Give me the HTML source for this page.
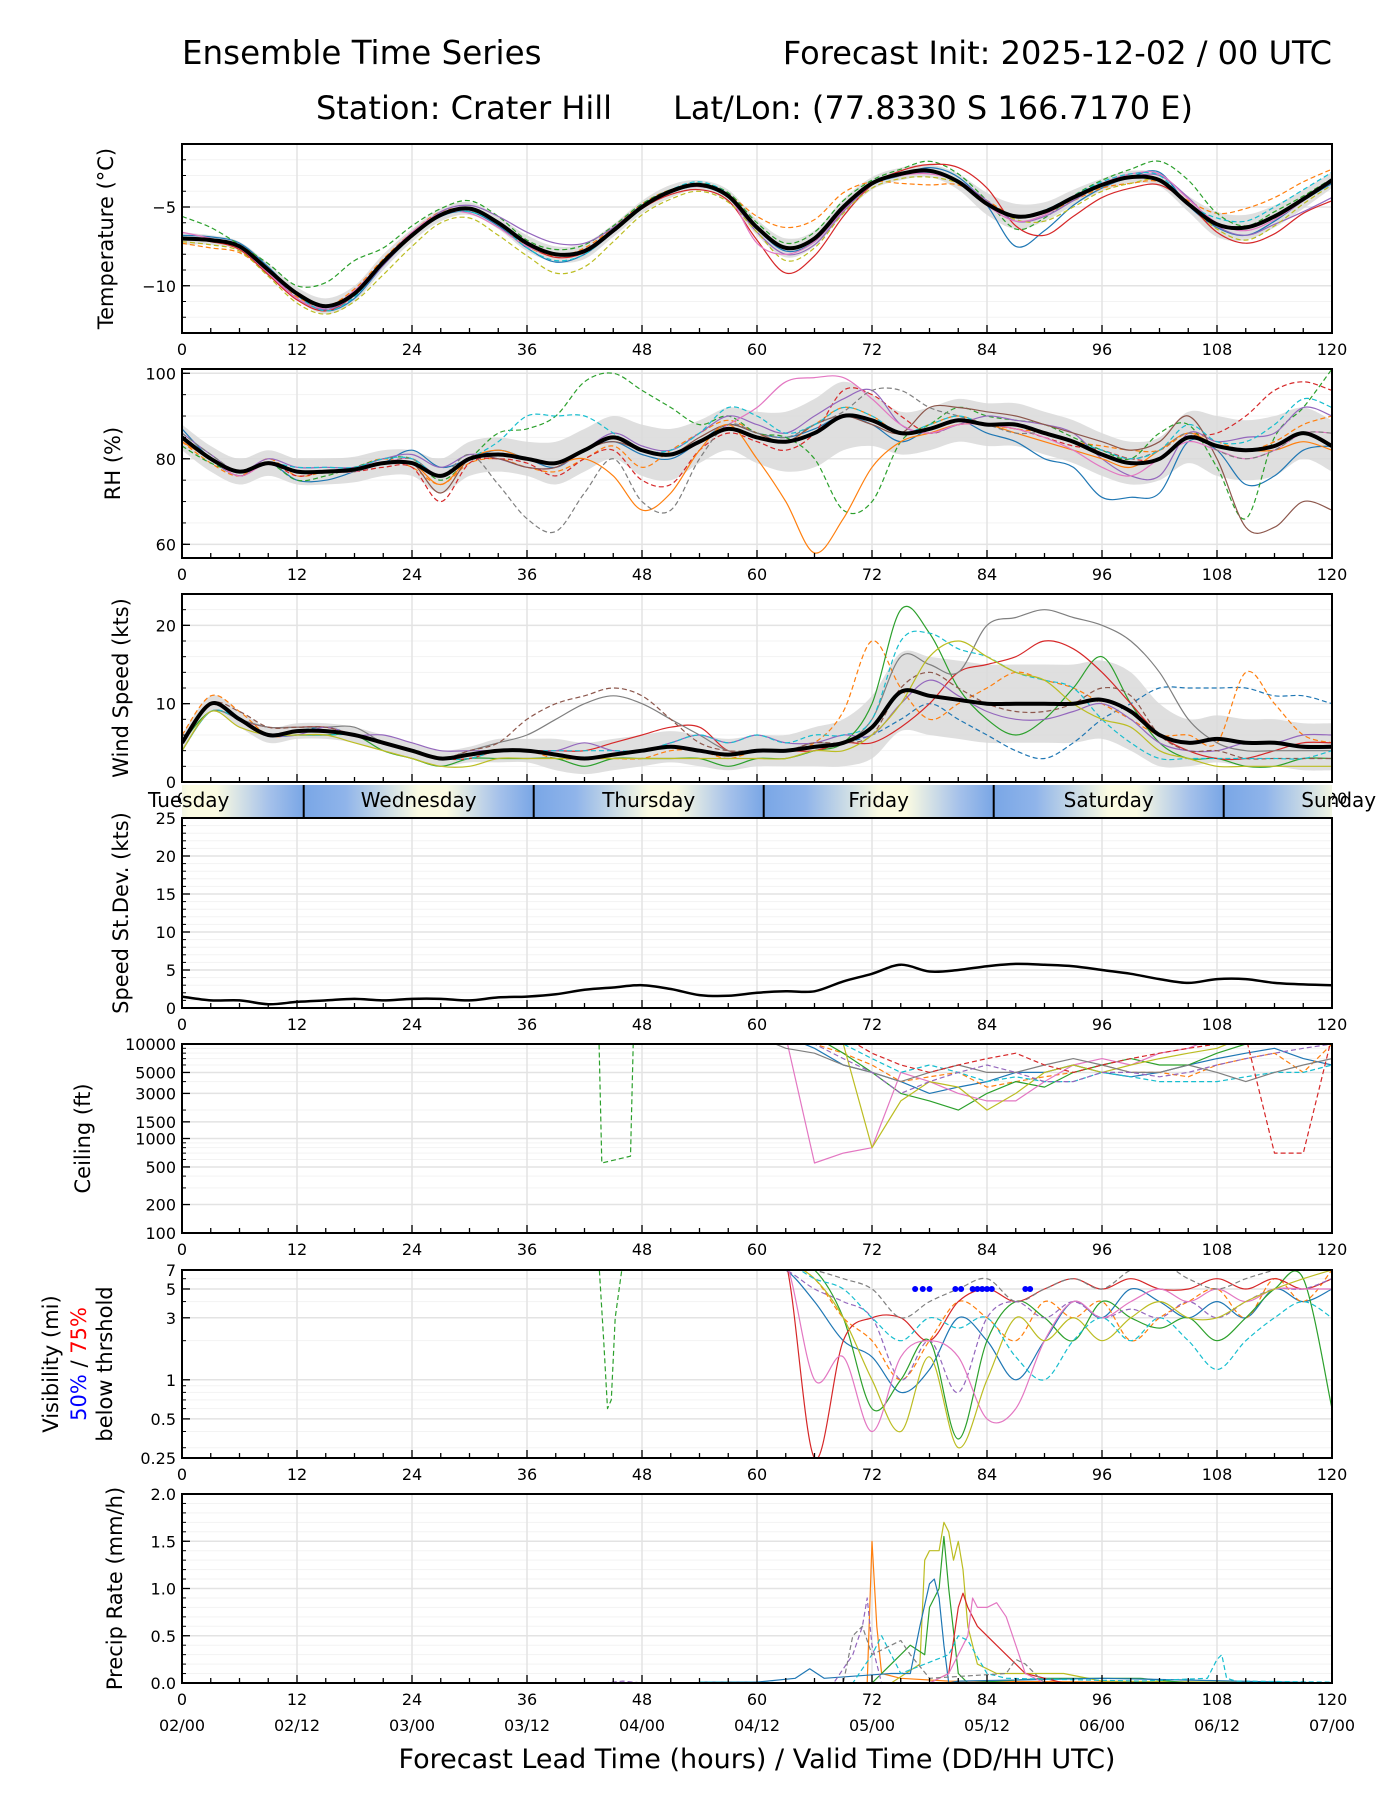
<!DOCTYPE html>
<html><head><meta charset="utf-8"><style>
html,body{margin:0;padding:0;background:#fff;}
svg{display:block;font-family:"DejaVu Sans","Liberation Sans",sans-serif;}
</style></head><body>
<svg id="chart" width="1400" height="1800" viewBox="0 0 1400 1800" xmlns="http://www.w3.org/2000/svg">
<text x="182" y="64" font-size="32.5">Ensemble Time Series</text>
<text x="1332" y="64" font-size="32" text-anchor="end">Forecast Init: 2025-12-02 / 00 UTC</text>
<text x="464" y="119" font-size="32" text-anchor="middle">Station: Crater Hill</text>
<text x="933" y="119" font-size="32" text-anchor="middle">Lat/Lon: (77.8330 S 166.7170 E)</text>
<g id="layer"></g>
</svg>
<script>
// ---------- data ----------
const hours3 = [0,3,6,9,12,15,18,21,24,27,30,33,36,39,42,45,48,51,54,57,60,63,66,69,72,75,78,81,84,87,90,93,96,99,102,105,108,111,114,117,120];
const xTicks = [0,12,24,36,48,60,72,84,96,108,120];
const dateLabels = ["02/00","02/12","03/00","03/12","04/00","04/12","05/00","05/12","06/00","06/12","07/00"];
const dayNames = ["Tuesday","Wednesday","Thursday","Friday","Saturday","Sunday"];
const dayBoundaries = [12.7,36.7,60.7,84.7,108.7];
const colors = ["#1f77b4","#ff7f0e","#2ca02c","#d62728","#9467bd","#8c564b","#e377c2","#7f7f7f","#bcbd22","#17becf"];

const tempMean = [-7,-7.1,-7.5,-9,-10.5,-11.3,-10.5,-8.5,-6.8,-5.5,-5.1,-6,-7.3,-8,-7.8,-6.5,-5,-4,-3.6,-4.3,-6.3,-7.6,-7,-5,-3.5,-2.9,-2.7,-3.4,-4.8,-5.6,-5.3,-4.4,-3.6,-3.1,-3.3,-4.8,-6.1,-6.3,-5.6,-4.5,-3.3];
const tempBand = [0.4,0.3,0.3,0.4,0.4,0.5,0.5,0.5,0.4,0.4,0.4,0.4,0.5,0.5,0.5,0.4,0.4,0.4,0.3,0.4,0.5,0.6,0.5,0.5,0.4,0.4,0.4,0.5,0.7,0.8,0.6,0.5,0.4,0.4,0.4,0.5,0.8,0.8,0.7,0.6,0.5];
const tempM1 = [-6.8,-6.9,-7.3,-8.8,-10.6,-11.6,-10.8,-8.7,-6.9,-5.6,-5.3,-6.2,-7.6,-8.5,-8,-6.6,-5.1,-4.1,-3.7,-4.4,-6.4,-7.8,-7.2,-5.2,-3.6,-3,-2.5,-3.1,-4.9,-7.5,-6.5,-4.9,-3.8,-3.1,-2.8,-4.9,-6.3,-6.8,-5.9,-4.6,-3.5];
const tempM2 = [-7.3,-7.6,-7.9,-9.2,-10.7,-11.3,-10.2,-8.3,-6.6,-5.3,-5.2,-6.1,-7.5,-8.1,-7.6,-6.3,-4.8,-3.9,-3.7,-4.2,-5.6,-6.3,-5.8,-4.1,-3.4,-3.5,-3.6,-3.6,-4.6,-5.6,-5.4,-4.6,-3.8,-3.5,-3.4,-4.6,-5.4,-5.1,-4.4,-3.4,-2.6];
const tempM3 = [-5.6,-6.3,-7.4,-8.6,-10,-9.8,-8.4,-7.6,-6.2,-5.1,-4.6,-5.6,-7.1,-7.7,-7.4,-6.2,-4.8,-3.9,-3.5,-4.1,-6,-7.3,-6.6,-4.6,-3.3,-2.6,-2.1,-2.9,-4.6,-6.4,-5.7,-4.3,-3.3,-2.6,-2.1,-3.3,-5.4,-6.2,-5.3,-4.3,-3.2];
const tempM4 = [-7,-7.2,-7.7,-9.3,-10.9,-11.6,-10.6,-8.6,-6.9,-5.5,-5.1,-6,-7.4,-8.2,-7.9,-6.6,-5.1,-4.2,-3.9,-4.6,-7.1,-9.2,-8.1,-5.6,-3.6,-2.7,-2.3,-2.5,-3.8,-6.2,-6.8,-5.6,-4.4,-3.8,-3.6,-4.8,-6.6,-7.3,-6.7,-5.4,-4.6];
const tempM5 = [-7,-7.1,-7.6,-9.1,-10.8,-11.5,-10.6,-8.7,-6.8,-5.3,-4.9,-5.6,-6.6,-7.3,-7.3,-6.3,-4.9,-4,-3.6,-4.4,-6.6,-8,-7.4,-5.3,-3.6,-3,-2.8,-3.3,-4.6,-5.9,-5.6,-4.6,-3.6,-3.1,-3,-4.4,-6.2,-6.8,-6.1,-5.3,-4.4];
const tempM6 = [-7.2,-7.4,-7.8,-9.4,-11.1,-11.8,-11,-9.3,-7.5,-6,-5.7,-6.8,-8.1,-9.2,-8.8,-7.2,-5.5,-4.5,-4,-4.7,-6.6,-8.4,-7.6,-5.4,-3.8,-3.2,-3.1,-3.5,-4.7,-5.8,-5.9,-5,-4,-3.5,-3.3,-4.8,-6.4,-7.1,-6.2,-4.8,-3.6];
const tempM7 = [-6.6,-7,-7.6,-9.2,-10.8,-11.4,-10.3,-8.4,-6.6,-5.4,-5.4,-6.3,-7.5,-8,-7.7,-6.4,-4.9,-4,-3.7,-4.3,-7.3,-8,-7.2,-5.2,-3.5,-3,-2.9,-3.4,-4.9,-5.9,-5.5,-4.4,-3.5,-2.9,-2.9,-4.5,-6,-6.5,-5.8,-4.6,-3.3];
const tempM8 = [-6.9,-7.1,-7.5,-9,-10.6,-11.6,-10.7,-8.5,-6.8,-5.5,-5.3,-6.1,-7.6,-8.4,-8,-6.5,-4.9,-3.9,-3.4,-4.2,-6.3,-7.6,-7,-5,-3.4,-2.9,-2.8,-3.3,-4.8,-5.6,-5.2,-4.3,-3.4,-2.9,-3,-4.8,-5.7,-5.9,-5,-3.9,-2.8];

const rhMean = [85,80,77,79,77,77,77.5,79,79,76,80,81,80,79,82,85,82,81,84,87,85,84,86,90,89,86,87,89,88,88,86,84,81,79,80,85,83,82,83,86,83];
const rhBand = [3,3,3,3,3,3,3,3,3,4,4,4,4,5,5,5,6,6,5,5,6,7,8,8,6,5,5,5,5,5,5,5,5,5,5,6,7,7,7,6,6];
const rhM1 = [87,80,76,79,75,75,77,79,82,78,80,82,80,78,82,84,81,80,84,88,86,85,87,90,88,84,87,89,86,84,80,78,71,71,72,84,82,74,76,82,83];
const rhM2 = [84,79,76,80,76,77,78,80,78,74,79,80,78,77,80,83,78,82,86,89,86,84,88,92,90,86,88,90,88,87,86,84,83,82,82,86,84,82,84,88,90];
const rhM3 = [83,79,77,79,75,76,78,80,80,75,80,86,87,90,98,100,96,92,88,90,86,85,80,68,70,84,88,92,90,89,88,85,82,80,86,88,78,66,85,92,101];
const rhM4 = [85,80,76,79,76,77,77,78,78,70,79,80,79,76,80,82,75,74,82,86,84,82,86,96,95,90,86,88,88,87,85,83,82,80,80,85,86,90,96,98,96];
const rhM5 = [86,81,77,80,78,78,78,80,81,78,81,80,78,78,82,86,83,82,86,90,88,86,90,94,96,88,86,88,90,89,88,86,80,76,76,86,84,85,86,92,90];
const rhM6 = [85,80,77,79,77,77,77,79,79,72,80,80,78,78,82,84,82,81,85,88,86,84,88,90,88,86,92,92,91,90,88,86,84,82,84,90,80,64,64,70,68];
const rhM7 = [84,80,77,79,77,77,77,79,79,74,80,82,80,79,80,76,68,72,82,88,80,70,58,66,78,84,86,88,88,86,84,82,80,78,82,86,83,82,82,84,82];
const rhM8 = [85,80,76,79,77,77,77,79,80,76,80,81,80,79,82,85,82,81,84,88,92,98,99,99,94,88,86,88,88,87,85,82,78,76,80,84,82,80,82,86,86];
const rhM9 = [86,81,77,79,77,77,77,79,80,76,81,74,66,63,72,80,70,68,80,88,86,85,88,91,96,96,92,90,88,86,86,84,82,80,82,86,82,80,82,86,86];
const rhM10 = [85,80,77,79,78,78,78,80,80,76,80,84,90,90,90,86,82,82,86,92,90,86,88,92,90,86,88,90,88,88,86,84,82,80,82,88,84,84,88,94,92];

const windMean = [5,10,8,6,6.5,6.5,6,5,4,3,3.5,4,4,3.5,3,3.5,4,4.5,4,3.5,4,4,4.5,5,7,11.5,11,10.5,10,10,10,10,10.5,9,6,5,5.5,5,5,4.5,4.5];
const windBand = [1,1,1,1,1,1,1,1,1,1,1,1.5,1.5,2,2,2,2,2,2,2,2,2,2.5,3,4,5,5,5,5,5,5,5,5,5,4,3,3,3,3,3,3];
const windM1 = [5,10,8,6,6.5,7,6,5,4,3,3.5,4,4,3.5,3,3.5,4,4.5,4,3.5,4,4,4.5,5,6,8,10,8,6,4,3,5,8,10,12,12,12,12,11,11,10];
const windM2 = [6,11,9,6,6,6,6,5,4,3,3,4,4,3,3,3,3,4,4,3,4,4,5,9,18,12,8,10,12,14,13,12,10,8,6,6,5,14,10,6,5];
const windM3 = [5,9,8,6,6,6,6,4,3,2,3,3,3,3,2,3,3,3,3,2,3,3,4,5,10,22,19,12,8,6,8,12,16,10,5,3,3,2,2,3,3];
const windM4 = [5,10,8,7,7,7,6,5,4,3,3,4,4,4,4,5,6,7,7,4,4,4,4,5,5,7,10,14,15,16,18,17,14,10,6,4,3,3,4,5,5];
const windM5 = [4,9,8,7,7,7,7,5,4,3,4,5,6,8,10,11,10,8,6,4,4,4,5,5,8,16,15,14,20,21,22,21,20,18,14,8,5,4,4,4,4];
const windM6 = [5,10,8,6,6,7,6,6,5,4,4,4,4,4,5,4,4,5,6,5,6,5,5,6,6,10,13,11,9,8,8,9,10,8,5,4,4,5,5,6,6];
const windM7 = [5,10,9,7,7,7,6,5,4,3,4,5,8,10,11,12,11,8,5,4,4,4,5,5,6,12,14,12,10,9,9,10,12,11,6,4,4,3,3,3,3];
const windM8 = [4,9,8,6,6,6,6,5,4,3,3,4,4,4,4,4,4,5,6,5,6,5,6,6,8,18,19,17,16,14,13,12,8,5,3,3,3,3,3,3,4];
const windM9 = [4,9,7,6,6,6,5,4,3,2,2,3,3,3,3,3,3,3,3,3,3,3,4,4,6,10,16,18,16,14,13,10,8,7,4,3,2,2,2,2,2];

const sdValues = [1.5,1,1,0.5,0.8,1,1.2,1,1.2,1.2,1,1.4,1.5,1.8,2.4,2.7,3,2.5,1.7,1.6,2,2.2,2.2,3.5,4.5,5.7,4.8,5,5.5,5.8,5.7,5.5,5,4.5,3.8,3.3,3.8,3.8,3.3,3.1,3];

const lateHours = [60,63,66,69,72,75,78,81,84,87,90,93,96,99,102,105,108,111,114,117,120];
const ceilC1 = [12000,12000,9000,6000,5000,4000,3000,3500,4000,5000,5000,6000,5000,4500,5000,6000,7000,8000,9000,7000,6000];
const ceilC2 = [12000,12000,10000,8000,6000,4000,4500,5000,3500,4000,4500,5000,6000,5000,5000,4500,6000,7000,8000,5000,10000];
const ceilC3 = [12000,12000,12000,8000,5000,3000,2500,2000,3000,4000,3500,5000,6000,7000,6000,6000,8000,10000,12000,12000,12000];
const ceilC4 = [12000,12000,550,700,800,5000,4000,3000,2500,2500,4000,6000,7000,6000,8000,9000,12000,12000,12000,12000,12000];
const ceilC5 = [12000,12000,12000,10000,800,2500,4000,3500,2000,3000,5000,6000,5000,6000,7000,8000,9000,12000,12000,12000,12000];
const ceilC6 = [12000,12000,12000,10000,7000,5000,6000,5000,4000,4500,4000,4000,5000,4500,4000,4000,4000,4500,5000,5000,6000];
const ceilC7 = [12000,9000,8000,6000,5000,4000,5000,6000,5000,5000,6000,7000,6000,5000,5000,6000,5000,4000,5000,6000,7000];
const ceilC8 = [12000,12000,12000,12000,8000,6000,5000,6000,7000,8000,6000,5000,6000,7000,8000,9000,10000,12000,700,700,12000];
const ceilC9 = [12000,12000,10000,7000,5000,3000,4000,5000,6000,5000,4000,4000,5000,5000,4500,5000,6000,7000,8000,9000,10000];
const ceilGreenHours = [43.5,43.8,46.8,47.1];
const ceilGreenVals = [12000,550,650,12000];

const visV1 = [8,7,4,2,1.5,0.8,1.2,3,2,1,2,4,3,5,4,3,4,3,5,4,5];
const visV2 = [8,8,6,3,2,1,2,4,3,2,4,3,4,2,3,4,5,3,6,4,7];
const visV3 = [8,8,7,3,0.6,1,2,0.35,2,4,3,2,4,3,2.5,3,2,3,5,6,0.6];
const visV4 = [8,8,0.25,2,3,3,2,4,5,4,5,6,5,6,5,5,6,5,6,5,6];
const visV5 = [8,7,5,4,3,1,2,0.8,3,4,3,4,3,3.5,3,4,3,4,5,5,6];
const visV6 = [8,8,1,1.5,0.4,1.5,2,1.5,0.5,0.6,2,4,3,4,5,4,5,4,5,5,5];
const visV7 = [8,8,6,3,1,0.4,1.5,0.3,1,3,2,3,2,3,4,3,3,4,5,6,7];
const visV8 = [8,8,6,5,3,2,3,2.5,3,1.5,1,2,3,2,3,2,1.2,2,3,4,3];
const visV9 = [8,8,7,6,5,3,4,5,6,4,5,6,5,7,8,6,5,6,7,8,8];
const visGreenHours = [43.5,44,44.4,44.8,45.2,46];
const visGreenVals = [8,2,0.6,0.7,3,8];
const visBlueDotHours = [76.5,77.3,78,80.7,81.3,82.5,83,83.5,84,84.5,88,88.5];
const visBlueDotVals = [5,5,5,5,5,5,5,5,5,5,5,5];

const prOrangeH = [60,70,71.5,72,72.5,73,75,80,120];
const prOrangeV = [0,0,0,1.5,0.6,0.1,0.05,0.02,0];
const prOliveH = [60,74,77,77.5,78,79,79.5,80,80.5,81,81.5,82,83,85,88,92,96,120];
const prOliveV = [0,0,0.2,1.3,1.4,1.4,1.7,1.6,1.3,1.5,1.2,0.6,0.2,0.1,0.1,0.1,0.02,0];
const prGreenH = [60,72,76,77.5,78,79,79.5,80,81,82,90,100,105,120];
const prGreenV = [0,0,0.4,0.3,0.8,1.0,1.55,1.0,0.1,0,0.05,0.05,0,0];
const prBlueH = [54,60,64,65.5,67,74,76,77,78,78.5,79,79.5,80,81,96,110,120];
const prBlueV = [0.01,0.01,0.05,0.15,0.05,0.1,0.1,0.6,1.05,1.1,0.9,0.4,0,0.02,0.05,0.02,0];
const prRedH = [60,78,80,81,81.5,82,83,84,86,87,88,92,120];
const prRedV = [0,0,0.1,0.8,0.95,0.8,0.6,0.5,0.3,0.2,0.1,0,0];
const prPinkH = [60,78,80,82,82.5,83,84,85,86,87,88,90,120];
const prPinkV = [0,0,0.1,0.5,0.9,0.8,0.8,0.85,0.7,0.4,0.1,0,0];
const prCyanH = [54,70,72,73,75,80,81,82,84,86,100,107,108,108.5,109,110,120];
const prCyanV = [0.01,0,0.3,0.5,0.1,0.3,0.5,0.45,0.1,0.05,0.02,0.05,0.25,0.3,0.05,0.02,0.01];
const prPurpleH = [44,46,48,68,70,71,71.5,72,73,120];
const prPurpleV = [0,0.02,0,0,0.3,0.6,0.9,0.4,0,0];
const prGrayH = [60,69,70,71,72,74,75,76,78,86,87,88,90,120];
const prGrayV = [0,0,0.5,0.6,0.3,0.4,0.45,0.3,0.05,0.1,0.25,0.2,0,0];

// ---------- helpers ----------
const NS = "http://www.w3.org/2000/svg";
const layer = document.getElementById("layer");
const X0 = 182, X1 = 1332;
function xs(h){ return X0 + (h/120)*(X1-X0); }
function mk(tag, attrs, parent){
  const e = document.createElementNS(NS, tag);
  for (const k in attrs) e.setAttribute(k, attrs[k]);
  (parent||layer).appendChild(e);
  return e;
}
function linScale(top,bot,lo,hi){ return v => bot - (v-lo)/(hi-lo)*(bot-top); }
function logScale(top,bot,lo,hi){ return v => bot - (Math.log10(v)-Math.log10(lo))/(Math.log10(hi)-Math.log10(lo))*(bot-top); }
function smoothPath(pts){
  if (pts.length<2) return "";
  let d = "M"+pts[0][0].toFixed(1)+","+pts[0][1].toFixed(1);
  for (let i=0;i<pts.length-1;i++){
    const p0=pts[Math.max(0,i-1)], p1=pts[i], p2=pts[i+1], p3=pts[Math.min(pts.length-1,i+2)];
    const c1x=p1[0]+(p2[0]-p0[0])/6, c1y=p1[1]+(p2[1]-p0[1])/6;
    const c2x=p2[0]-(p3[0]-p1[0])/6, c2y=p2[1]-(p3[1]-p1[1])/6;
    d += " C"+c1x.toFixed(1)+","+c1y.toFixed(1)+" "+c2x.toFixed(1)+","+c2y.toFixed(1)+" "+p2[0].toFixed(1)+","+p2[1].toFixed(1);
  }
  return d;
}
function linePath(pts){ return pts.map((p,i)=>(i?"L":"M")+p[0].toFixed(1)+","+p[1].toFixed(1)).join(" "); }

function panel(name, top, bot, ysc, yMajors, yLabels, yMinors, title, clipId, titleX){
  const g = mk("g", {});
  
  
  const cp = mk("clipPath", {id: clipId}, g);
  mk("rect", {x:X0, y:top, width:X1-X0, height:bot-top}, cp);
  yMinors.forEach(v=>{
    const l = mk("line",{x1:X0,x2:X1,y1:ysc(v),y2:ysc(v),stroke:"#f3f3f3","stroke-width":1},g);
    
    
  });
  xTicks.forEach(h=>{
    const l = mk("line",{x1:xs(h),x2:xs(h),y1:top,y2:bot,stroke:"#e3e3e3","stroke-width":1.5},g);
    
    
  });
  yMajors.forEach(v=>{
    const l = mk("line",{x1:X0,x2:X1,y1:ysc(v),y2:ysc(v),stroke:"#e3e3e3","stroke-width":1.5},g);
    
    
  });
  const plot = mk("g", {"clip-path":"url(#"+clipId+")"}, g);
  
  
  const deco = () => {
    const fr = mk("rect",{x:X0,y:top,width:X1-X0,height:bot-top,fill:"none",stroke:"#000","stroke-width":2},g);
    
    
    for (let h=0; h<=120; h+=3){
      const len = (h%12===0)?8:5;
      mk("line",{x1:xs(h),x2:xs(h),y1:bot,y2:bot-len,stroke:"#000","stroke-width":1.3},g);
    }
    yMajors.forEach(v=>mk("line",{x1:X0,x2:X0+8,y1:ysc(v),y2:ysc(v),stroke:"#000","stroke-width":1.3},g));
    yMinors.forEach(v=>mk("line",{x1:X0,x2:X0+4,y1:ysc(v),y2:ysc(v),stroke:"#000","stroke-width":1},g));
    xTicks.forEach(h=>{
      const t = mk("text",{x:xs(h),y:bot+22,"font-size":16,"text-anchor":"middle"},g);
      
      
      t.textContent = String(h);
    });
    yMajors.forEach((v,i)=>{
      const t = mk("text",{x:X0-6,y:ysc(v)+6,"font-size":16,"text-anchor":"end"},g);
      
      
      t.textContent = yLabels[i];
    });
    if (title){
      const cy=(top+bot)/2;
      const t = mk("text",{x:0,y:0,"font-size":21,"text-anchor":"middle",transform:"translate("+titleX+","+cy+") rotate(-90)"},g);
      
      
      t.textContent = title;
    }
  };
  return {plot, deco};
}
function drawSeries(plot, hours, vals, ysc, color, dashed, width, smooth, name){
  const pts = hours.map((h,i)=>[xs(h), ysc(vals[i])]);
  const p = mk("path",{d: smooth?smoothPath(pts):linePath(pts), fill:"none", stroke:color, "stroke-width":width, "stroke-dasharray": dashed?"5,3":"none", "stroke-linejoin":"round"}, plot);
  
  
}
function drawBand(plot, hours, mean, half, ysc, name){
  const up = hours.map((h,i)=>[xs(h), ysc(mean[i]+half[i])]);
  const dn = hours.map((h,i)=>[xs(h), ysc(mean[i]-half[i])]).reverse();
  const d = smoothPath(up) + " L" + dn[0][0]+","+dn[0][1] + smoothPath(dn).replace(/^M[^ ]+/,"") + " Z";
  const p = mk("path",{d, fill:"#d9d9d9", stroke:"none", opacity:0.85}, plot);
  
  
}
function range(a,b,s){ const r=[]; for(let v=a; v<=b+1e-9; v+=s) r.push(+v.toFixed(4)); return r; }

// ---------- temperature ----------
{
  const top=144,bot=333, ys=linScale(top,bot,-13,-1);
  const P = panel("temperature",top,bot,ys,[-10,-5],["\u221210","\u22125"],range(-13,-1,1),"Temperature (\u00b0C)","clipT",113);
  drawBand(P.plot,hours3,tempMean,tempBand,ys,"temperature-spread-band");
  const mem=[tempM1,tempM2,tempM3,tempM4,tempM5,tempM6,tempM7,tempM8];
  const cols=[0,1,2,3,4,8,6,9], dash=[false,true,true,false,false,true,false,true];
  mem.forEach((m,i)=>drawSeries(P.plot,hours3,m,ys,colors[cols[i]],dash[i],1.2,true,"temperature-member-"+(i+1)));
  drawSeries(P.plot,hours3,tempMean,ys,"#000",false,4,true,"temperature-ensemble-mean");
  P.deco();
}
// ---------- RH ----------
{
  const top=369,bot=558, ys=linScale(top,bot,56.8,101);
  const P = panel("rh",top,bot,ys,[60,80,100],["60","80","100"],range(60,100,5),"RH (%)","clipR",120);
  drawBand(P.plot,hours3,rhMean,rhBand,ys,"rh-spread-band");
  const mem=[rhM1,rhM2,rhM3,rhM4,rhM5,rhM6,rhM7,rhM8,rhM9,rhM10];
  const cols=[0,1,2,3,4,5,1,6,7,9], dash=[false,true,true,true,false,false,false,false,true,true];
  mem.forEach((m,i)=>drawSeries(P.plot,hours3,m,ys,colors[cols[i]],dash[i],1.2,true,"rh-member-"+(i+1)));
  drawSeries(P.plot,hours3,rhMean,ys,"#000",false,4,true,"rh-ensemble-mean");
  P.deco();
}
// ---------- wind ----------
{
  const top=594,bot=782, ys=linScale(top,bot,0,24);
  const P = panel("wind",top,bot,ys,[0,10,20],["0","10","20"],range(0,24,2),"Wind Speed (kts)","clipW",128);
  drawBand(P.plot,hours3,windMean,windBand,ys,"wind-spread-band");
  const mem=[windM1,windM2,windM3,windM4,windM5,windM6,windM7,windM8,windM9];
  const cols=[0,1,2,3,7,4,5,9,8], dash=[true,true,false,false,false,false,true,true,false];
  mem.forEach((m,i)=>drawSeries(P.plot,hours3,m,ys,colors[cols[i]],dash[i],1.2,true,"wind-member-"+(i+1)));
  drawSeries(P.plot,hours3,windMean,ys,"#000",false,4,true,"wind-ensemble-mean");
  P.deco();
}
// ---------- day bar ----------
{
  const top=785,bot=818;
  const defs = mk("defs",{});
  const grad = mk("linearGradient",{id:"dayGrad",x1:"0",x2:"1",y1:"0",y2:"0"},defs);
  [["0","#79a6e6"],["0.18","#8fb4ea"],["0.5","#fbfbe2"],["0.62","#fbfbe2"],["0.85","#a5c1ea"],["1","#79a6e6"]].forEach(s=>mk("stop",{offset:s[0],"stop-color":s[1]},grad));
  const g = mk("g",{});
  
  
  const cp = mk("clipPath",{id:"clipD"},g);
  mk("rect",{x:X0,y:top,width:X1-X0,height:bot-top},cp);
  const inner = mk("g",{"clip-path":"url(#clipD)"},g);
  const starts=[dayBoundaries[0]-24].concat(dayBoundaries);
  starts.forEach((s,i)=>{
    const r = mk("rect",{x:xs(s),y:top,width:xs(s+24)-xs(s),height:bot-top,fill:"url(#dayGrad)"},inner);
    
    
  });
  dayBoundaries.forEach(b=>mk("line",{x1:xs(b),x2:xs(b),y1:top,y2:bot,stroke:"#000","stroke-width":2},g));
  starts.forEach((s,i)=>{
    const t = mk("text",{x:xs(s+12),y:top+22,"font-size":20,"text-anchor":"middle"},g);
    
    
    t.textContent = dayNames[i];
  });
}
// ---------- SD ----------
{
  const top=818,bot=1008, ys=linScale(top,bot,0,25);
  const P = panel("speed-sd",top,bot,ys,[0,5,10,15,20,25],["0","5","10","15","20","25"],range(0,25,1),"Speed St.Dev. (kts)","clipS",128);
  drawSeries(P.plot,hours3,sdValues,ys,"#000",false,2.5,true,"speed-stdev-line");
  P.deco();
}
// ---------- ceiling ----------
{
  const top=1044,bot=1233, ys=logScale(top,bot,100,10000);
  const minors=[300,400,600,700,800,900,2000,4000,6000,7000,8000,9000];
  const P = panel("ceiling",top,bot,ys,[100,200,500,1000,1500,3000,5000,10000],["100","200","500","1000","1500","3000","5000","10000"],minors,"Ceiling (ft)","clipC",90);
  const mem=[ceilC1,ceilC2,ceilC3,ceilC4,ceilC5,ceilC6,ceilC7,ceilC8,ceilC9];
  const cols=[0,1,2,6,8,9,7,3,4], dash=[false,true,false,false,false,true,false,true,true];
  mem.forEach((m,i)=>drawSeries(P.plot,lateHours,m,ys,colors[cols[i]],dash[i],1.2,false,"ceiling-member-"+(i+1)));
  drawSeries(P.plot,ceilGreenHours,ceilGreenVals,ys,colors[2],true,1.2,false,"ceiling-member-green-early");
  P.deco();
}
// ---------- visibility ----------
{
  const top=1270,bot=1458, ys=logScale(top,bot,0.25,7);
  const minors=[0.3,0.4,0.6,0.7,0.8,0.9,2,4,6];
  const P = panel("visibility",top,bot,ys,[0.25,0.5,1,3,5,7],["0.25","0.5","1","3","5","7"],minors,null,"clipV",0);
  const mem=[visV1,visV2,visV3,visV4,visV5,visV6,visV7,visV8,visV9];
  const cols=[0,1,2,3,4,6,8,9,7], dash=[false,true,false,false,true,false,false,true,true];
  mem.forEach((m,i)=>drawSeries(P.plot,lateHours,m,ys,colors[cols[i]],dash[i],1.2,true,"visibility-member-"+(i+1)));
  drawSeries(P.plot,visGreenHours,visGreenVals,ys,colors[2],true,1.2,false,"visibility-member-green-early");
  visBlueDotHours.forEach((h,i)=>{
    const c = mk("circle",{cx:xs(h),cy:ys(visBlueDotVals[i]),r:3,fill:"#0000ff"},P.plot);
    
    
  });
  P.deco();
  const cy=(top+bot)/2;
  const t1 = mk("text",{x:0,y:0,"font-size":21,"text-anchor":"middle",transform:"translate(58,"+cy+") rotate(-90)"});
  
  
  t1.textContent = "Visibility (mi)";
  const t2 = mk("text",{x:0,y:0,"font-size":21,"text-anchor":"middle",transform:"translate(86,"+cy+") rotate(-90)"});
  
  
  const s1 = mk("tspan",{fill:"#0000ff"},t2); s1.textContent="50%";
  const s2 = mk("tspan",{fill:"#000"},t2); s2.textContent=" / ";
  const s3 = mk("tspan",{fill:"#ff0000"},t2); s3.textContent="75%";
  const t3 = mk("text",{x:0,y:0,"font-size":21,"text-anchor":"middle",transform:"translate(112,"+cy+") rotate(-90)"});
  
  
  t3.textContent = "below thrshold";
}
// ---------- precip ----------
{
  const top=1494,bot=1683, ys=linScale(top,bot,0,2);
  const P = panel("precip",top,bot,ys,[0,0.5,1,1.5,2],["0.0","0.5","1.0","1.5","2.0"],range(0,2,0.1),"Precip Rate (mm/h)","clipP",122);
  const series=[[prOrangeH,prOrangeV,1,false],[prOliveH,prOliveV,8,false],[prGreenH,prGreenV,2,false],[prBlueH,prBlueV,0,false],[prRedH,prRedV,3,false],[prPinkH,prPinkV,6,false],[prCyanH,prCyanV,9,true],[prPurpleH,prPurpleV,4,true],[prGrayH,prGrayV,7,true]];
  series.forEach((s,i)=>drawSeries(P.plot,s[0],s[1],ys,colors[s[2]],s[3],1.2,false,"precip-member-"+(i+1)));
  P.deco();
  xTicks.forEach((h,i)=>{
    const t = mk("text",{x:xs(h),y:bot+48,"font-size":16,"text-anchor":"middle"});
    
    
    t.textContent = dateLabels[i];
  });
  const xt = mk("text",{x:(X0+X1)/2,y:1768,"font-size":27,"text-anchor":"middle"});
  
  
  xt.textContent = "Forecast Lead Time (hours) / Valid Time (DD/HH UTC)";
}
</script>
</body></html>
